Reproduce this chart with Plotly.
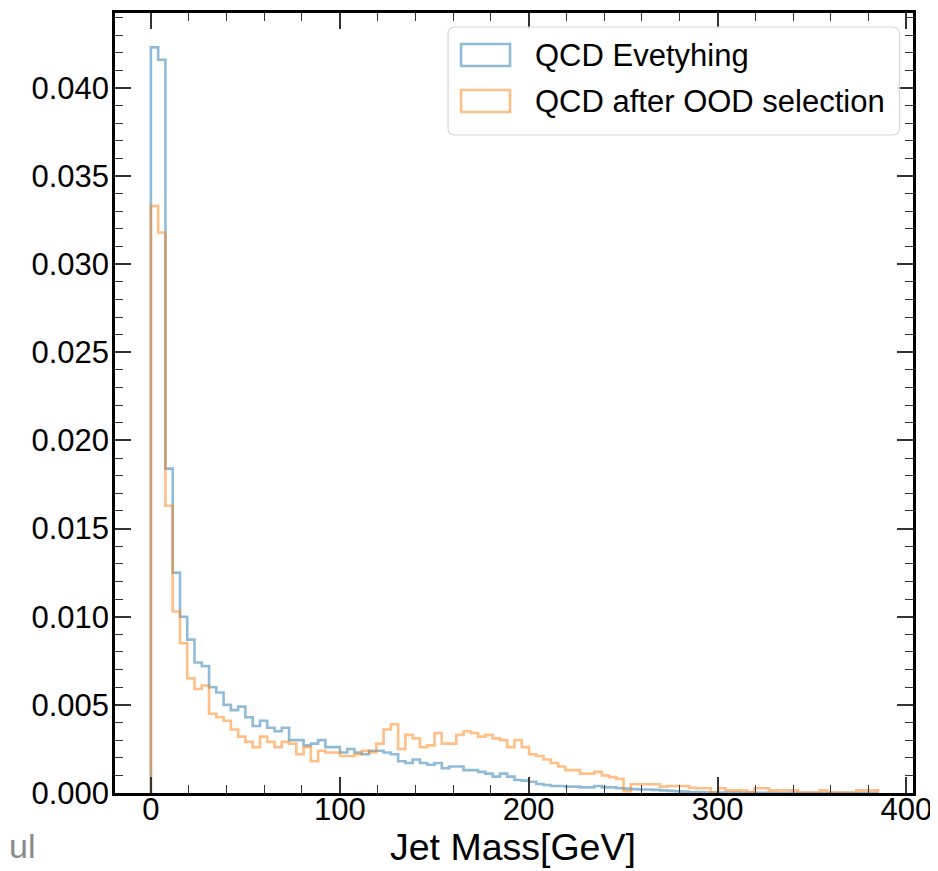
import numpy as np
import plotly.graph_objects as go

# ---- data ----
bin_lo = 0.0
bin_hi = 385.0
n_bins = 100

qcd_all = [
    0.0423, 0.0416, 0.0184, 0.0125, 0.0100, 0.0087, 0.0074, 0.0072, 0.0060, 0.0057,
    0.0050, 0.0047, 0.0049, 0.0043, 0.0038, 0.0041, 0.0037, 0.0035, 0.0037, 0.0030,
    0.0030, 0.0027, 0.0028, 0.0030, 0.0026, 0.0026, 0.0023, 0.0025, 0.0023, 0.0022,
    0.0024, 0.0024, 0.0023, 0.0022, 0.0018, 0.0017, 0.0019, 0.0017, 0.0016, 0.0017,
    0.0014, 0.0015, 0.0015, 0.0013, 0.0013, 0.0012, 0.0011, 0.00093, 0.0011, 0.00093,
    0.00074, 0.0007, 0.00064, 0.00051, 0.00045, 0.0004, 0.0004, 0.00036, 0.00036, 0.00032,
    0.00032, 0.0004, 0.00032, 0.00032, 0.00027, 0.00025, 0.00022, 0.0002, 0.0002, 0.00018,
    0.00015, 0.00012, 0.0001, 0.00008, 0.00006, 0.00005, 0.00004, 0.00003, 0.00003, 0.00002,
    0.00002, 0.00001, 0.00001, 0.00001, 0.00001, 0.00001, 0.0, 0.0, 0.00001, 0.0,
    0.0, 0.0, 0.0, 0.0, 0.0, 0.0, 0.0, 0.0, 0.0, 0.0,
]

qcd_ood = [
    0.0333, 0.0318, 0.0163, 0.0103, 0.0085, 0.0065, 0.0059, 0.0061, 0.0045, 0.0043,
    0.0041, 0.0036, 0.0032, 0.0029, 0.0026, 0.0032, 0.0029, 0.0026, 0.0029, 0.0028,
    0.0022, 0.0026, 0.0018, 0.0024, 0.0023, 0.0023, 0.0021, 0.0021, 0.0022, 0.0024,
    0.0023, 0.0028, 0.0036, 0.0039, 0.0025, 0.0033, 0.0031, 0.0026, 0.0027, 0.0034,
    0.0028, 0.0028, 0.0033, 0.0035, 0.0034, 0.0032, 0.0033, 0.0031, 0.0030, 0.0026,
    0.0030, 0.0026, 0.0022, 0.0021, 0.0019, 0.0017, 0.0015, 0.0013, 0.0013, 0.0011,
    0.0011, 0.0012, 0.0010, 0.0009, 0.0008, 0.0001, 0.0005, 0.0005, 0.0005, 0.0005,
    0.00036, 0.0004, 0.0004, 0.0004, 0.0003, 0.00027, 0.00027, 0.00003, 0.00027, 0.00015,
    0.00015, 0.00015, 0.00005, 0.00027, 0.00027, 0.00015, 0.00015, 0.00015, 0.00015, 0.00002,
    0.00002, 0.00002, 0.00015, 0.00002, 0.00002, 0.00002, 0.00002, 0.00015, 0.00015, 0.00015,
]

series_names = ["QCD Evetyhing", "QCD after OOD selection"]
series_colors = ["rgba(31,119,180,0.5)", "rgba(255,127,14,0.5)"]
x_ticks = [0, 100, 200, 300, 400]
y_ticks = [0.000, 0.005, 0.010, 0.015, 0.020, 0.025, 0.030, 0.035, 0.040]
x_title = "Jet Mass[GeV]"

edges = np.linspace(bin_lo, bin_hi, n_bins + 1)


def step_xy(vals):
    xs = [edges[0]] + list(edges[:-1]) + [edges[-1]]
    ys = [0.0] + list(vals) + [0.0]
    return xs, ys


fig = go.Figure()
for vals, name, col in zip([qcd_all, qcd_ood], series_names, series_colors):
    xs, ys = step_xy(vals)
    fig.add_trace(go.Scatter(x=xs, y=ys, mode="lines", line=dict(color=col, width=2.6, shape="hv"),
                             name=name, showlegend=False, hoverinfo="skip"))

FONT = "Liberation Sans, Arial, Helvetica, sans-serif"
OFF = 8  # page body margin of the html page
PW, PH = 938, 871            # browser window
W, H = PW - OFF, PH - OFF    # figure size
# plot-area edges, in window pixels
L, R, T, B = 114.5, 913.5, 13, 793
Lf, Rf, Tf, Bf = L - OFF, R - OFF, T - OFF, B - OFF

fig.update_layout(
    width=W, height=H,
    margin=dict(l=Lf, r=W - Rf, t=Tf, b=H - Bf, pad=0, autoexpand=False),
    paper_bgcolor="white", plot_bgcolor="white",
    font=dict(family=FONT, size=31, color="black"),
    showlegend=False,
)
fig.update_xaxes(
    range=[-19.0, 403.5], tickvals=x_ticks, ticktext=[str(v) for v in x_ticks],
    showgrid=False, zeroline=False, automargin=False,
    showline=True, linecolor="black", linewidth=2.5, mirror="allticks",
    ticks="inside", ticklen=16, tickwidth=1.5, tickcolor="#333",
    minor=dict(ticks="inside", ticklen=8, tickwidth=1.2, tickcolor="#333", dtick=20, tick0=0, showgrid=False),
    tickfont=dict(size=31, family=FONT), ticklabelstandoff=-13,
)
fig.update_yaxes(
    range=[0, 0.04425], tickvals=y_ticks, ticktext=["%.3f" % v for v in y_ticks],
    showgrid=False, zeroline=False, automargin=False,
    showline=True, linecolor="black", linewidth=2.5, mirror="allticks",
    ticks="inside", ticklen=16, tickwidth=1.5, tickcolor="#333",
    minor=dict(ticks="inside", ticklen=8, tickwidth=1.2, tickcolor="#333", dtick=0.001, tick0=0, showgrid=False),
    tickfont=dict(size=31, family=FONT), ticklabelstandoff=-3,
)


def px(xp):
    return (xp - L) / (R - L)


def py(yp):
    return (B - yp) / (B - T)


# x-axis title
fig.add_annotation(text=x_title, xref="paper", yref="paper", x=px(513), y=py(847),
                   xanchor="center", yanchor="middle", showarrow=False,
                   font=dict(size=37.5, family=FONT, color="black"))

# legend (drawn manually to mimic matplotlib patch legend)
x0, x1, y0, y1, rr = 448, 900, 27, 135, 7
rx, ry = rr / (R - L), rr / (B - T)
path = (f"M {px(x0)+rx},{py(y0)} L {px(x1)-rx},{py(y0)} Q {px(x1)},{py(y0)} {px(x1)},{py(y0)-ry} "
        f"L {px(x1)},{py(y1)+ry} Q {px(x1)},{py(y1)} {px(x1)-rx},{py(y1)} "
        f"L {px(x0)+rx},{py(y1)} Q {px(x0)},{py(y1)} {px(x0)},{py(y1)+ry} "
        f"L {px(x0)},{py(y0)-ry} Q {px(x0)},{py(y0)} {px(x0)+rx},{py(y0)} Z")
fig.add_shape(type="path", path=path, xref="paper", yref="paper",
              line=dict(color="#d6d6d6", width=1.2), fillcolor="rgba(255,255,255,0.85)", layer="above")
rows = [55, 101]
for name, col, yc in zip(series_names, series_colors, rows):
    fig.add_shape(type="rect", xref="paper", yref="paper",
                  x0=px(461), x1=px(510), y0=py(yc - 11), y1=py(yc + 11),
                  line=dict(color=col, width=2.6), fillcolor="rgba(0,0,0,0)", layer="above")
    fig.add_annotation(text=name, xref="paper", yref="paper", x=px(533), y=py(yc),
                       xanchor="left", yanchor="middle", showarrow=False,
                       font=dict(size=31, family=FONT, color="black"))

fig.add_annotation(text="ul", xref="paper", yref="paper", x=px(OFF - 2), y=py(846),
                   xanchor="left", yanchor="middle", showarrow=False,
                   font=dict(size=34, family=FONT, color="#8a8a8a"))

fig.write_html("out.html")
